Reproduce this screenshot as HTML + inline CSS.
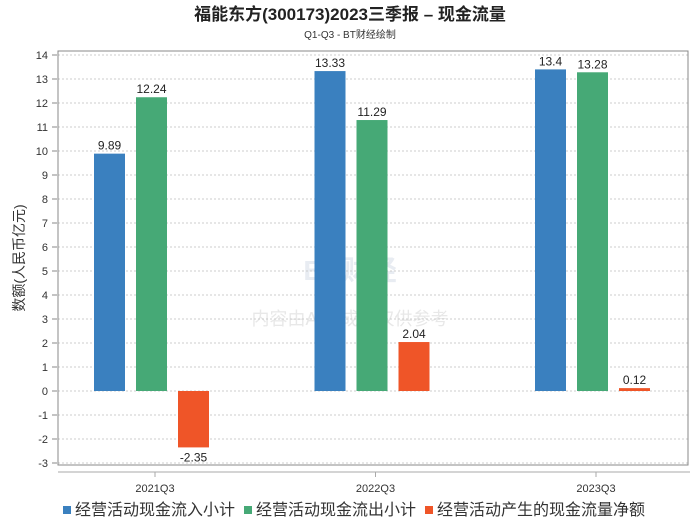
<!DOCTYPE html>
<html><head><meta charset="utf-8"><style>
body{margin:0;background:#fff;font-family:"Liberation Sans","Noto Sans CJK SC",sans-serif;}
</style></head><body>
<svg width="700" height="524" xmlns="http://www.w3.org/2000/svg" font-family="Liberation Sans, Noto Sans CJK SC, sans-serif">
<text x="350" y="20" text-anchor="middle" font-size="17" font-weight="bold" fill="#222">福能东方(300173)2023三季报 – 现金流量</text>
<text x="350" y="38" text-anchor="middle" font-size="10" fill="#333">Q1-Q3 - BT财经绘制</text>
<text x="350" y="280" text-anchor="middle" font-size="28" font-weight="bold" fill="#e8ecf2">BT财经</text>
<text x="350" y="325" text-anchor="middle" font-size="18" fill="#e8e8e8">内容由AI生成，仅供参考</text>
<g id="grid"></g>
<rect x="58" y="51" width="630" height="414" fill="none" stroke="#888"/>
<line x1="58" y1="472" x2="690" y2="472" stroke="#aaa"/>
<g id="bars"></g>
<text transform="translate(24,258) rotate(-90)" text-anchor="middle" font-size="14" fill="#333">数额(人民币亿元)</text>
<g font-size="16" fill="#333">
<rect x="63" y="506" width="8" height="8" fill="#3a80bf"/>
<text x="75" y="515">经营活动现金流入小计</text>
<rect x="244" y="506" width="8" height="8" fill="#46a976"/>
<text x="256" y="515">经营活动现金流出小计</text>
<rect x="425" y="506" width="8" height="8" fill="#ef5528"/>
<text x="437" y="515">经营活动产生的现金流量净额</text>
</g>
</svg>
<script>
const categories=["2021Q3","2022Q3","2023Q3"];
const inflow=[9.89,13.33,13.4];
const outflow=[12.24,11.29,13.28];
const net=[-2.35,2.04,0.12];
const yTicks=[-3,-2,-1,0,1,2,3,4,5,6,7,8,9,10,11,12,13,14];
const NS="http://www.w3.org/2000/svg";
const y=v=>391-v*24;
const xc=i=>155+i*220.5;
const grid=document.getElementById('grid'),bars=document.getElementById('bars');
function mk(tag,attrs,parent){const e=document.createElementNS(NS,tag);for(const k in attrs)e.setAttribute(k,attrs[k]);parent.appendChild(e);return e;}
yTicks.forEach(t=>{
 const l=mk('line',{x1:58,x2:688,y1:y(t),y2:y(t),stroke:'#ccc','stroke-dasharray':'2,2'},grid);
 
 
 const tk=mk('line',{x1:52,x2:57,y1:y(t),y2:y(t),stroke:'#888'},grid);
 
 
 const tx=mk('text',{x:48,y:y(t)+4,'text-anchor':'end','font-size':11,fill:'#333'},grid);
 tx.textContent=t;
 
 
});
const series=[[inflow,'#3a80bf','inflow'],[outflow,'#46a976','outflow'],[net,'#ef5528','net']];
categories.forEach((c,i)=>{
 const tk=mk('line',{x1:xc(i),x2:xc(i),y1:472,y2:477,stroke:'#aaa'},bars);
 
 
 const lb=mk('text',{x:xc(i),y:492,'text-anchor':'middle','font-size':11,fill:'#333'},bars);
 lb.textContent=c;
 
 
 series.forEach((s,j)=>{
  const v=s[0][i];const x=xc(i)-61+j*42;
  const top=Math.min(y(v),y(0)),h=Math.abs(y(v)-y(0));
  const r=mk('rect',{x:x,y:top,width:31,height:h,fill:s[1]},bars);
  
  
  const t=mk('text',{x:x+15.5,y:v>=0?y(v)-4:y(v)+14,'text-anchor':'middle','font-size':12,fill:'#222'},bars);
  t.textContent=v;
  
  
 });
});
</script>
</body></html>
